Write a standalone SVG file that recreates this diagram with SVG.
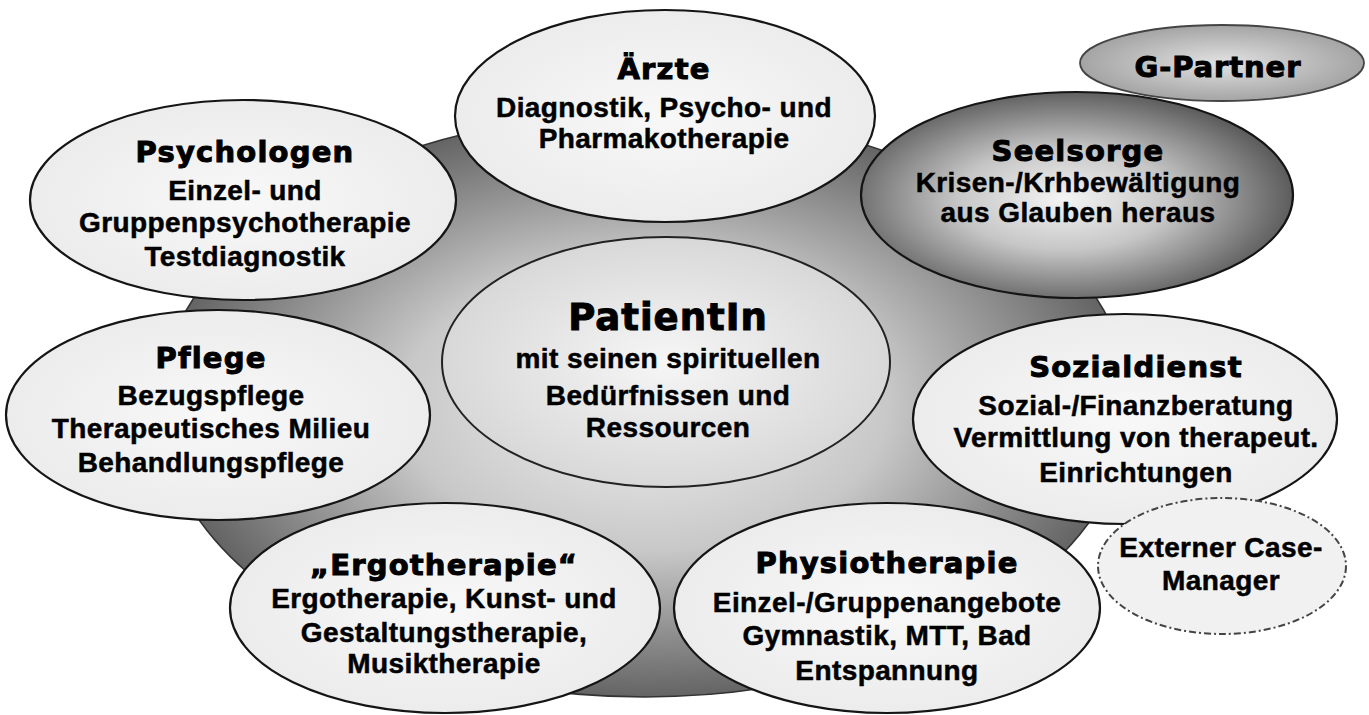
<svg xmlns="http://www.w3.org/2000/svg" width="1369" height="715" viewBox="0 0 1369 715">
<defs>
<radialGradient id="gBig" cx="0.5" cy="0.5" r="0.5">
<stop offset="0" stop-color="#f0f0f0"/>
<stop offset="0.5" stop-color="#c8c8c8"/>
<stop offset="1" stop-color="#646464"/>
</radialGradient>
<radialGradient id="gNode" cx="0.5" cy="0.5" r="0.5">
<stop offset="0" stop-color="#f8f8f8"/>
<stop offset="1" stop-color="#ececec"/>
</radialGradient>
<radialGradient id="gCenter" cx="0.5" cy="0.5" r="0.5">
<stop offset="0" stop-color="#f6f6f6"/>
<stop offset="1" stop-color="#d8d8d8"/>
</radialGradient>
<radialGradient id="gSeel" cx="0.47" cy="0.52" r="0.55">
<stop offset="0" stop-color="#f4f4f4"/>
<stop offset="0.45" stop-color="#c6c6c6"/>
<stop offset="1" stop-color="#555555"/>
</radialGradient>
<radialGradient id="gGP" cx="0.5" cy="0.5" r="0.5">
<stop offset="0" stop-color="#e2e2e2"/>
<stop offset="1" stop-color="#a4a4a4"/>
</radialGradient>
</defs>
<style>
.node{stroke:#151515;stroke-width:2.2;fill:url(#gNode)}
.t{font-family:"DejaVu Sans",Verdana,sans-serif;font-weight:bold;font-size:29px;letter-spacing:1.2px;text-anchor:middle;fill:#000;stroke:#000;stroke-width:1}
.b{font-family:"Liberation Sans",Arial,sans-serif;font-weight:bold;font-size:28px;letter-spacing:0.4px;text-anchor:middle;fill:#000;stroke:#000;stroke-width:0.5}
</style>
<rect width="1369" height="715" fill="#ffffff"/>
<g id="background">
<ellipse cx="645" cy="405" rx="485" ry="292" fill="url(#gBig)" stroke="#333" stroke-width="1.5"/>
</g>
<g id="connectors"/>
<g id="patient">
<ellipse cx="666" cy="362" rx="224" ry="125" fill="url(#gCenter)" stroke="#222" stroke-width="2"/>
<text class="t" x="668" y="330" style="font-size:37px;letter-spacing:1px">PatientIn</text>
<text class="b" x="668" y="368">mit seinen spirituellen</text>
<text class="b" x="668" y="405">Bedürfnissen und</text>
<text class="b" x="668" y="437">Ressourcen</text>
</g>
<g id="aerzte">
<ellipse class="node" cx="665" cy="116" rx="210" ry="106"/>
<text class="t" x="664" y="79">Ärzte</text>
<text class="b" x="664" y="117">Diagnostik, Psycho- und</text>
<text class="b" x="664" y="148">Pharmakotherapie</text>
</g>
<g id="psychologen">
<ellipse class="node" cx="243" cy="200" rx="213" ry="100"/>
<text class="t" x="245" y="162">Psychologen</text>
<text class="b" x="245" y="200">Einzel- und</text>
<text class="b" x="245" y="232">Gruppenpsychotherapie</text>
<text class="b" x="245" y="266">Testdiagnostik</text>
</g>
<g id="pflege">
<ellipse class="node" cx="218" cy="415" rx="212" ry="105"/>
<text class="t" x="211" y="368">Pflege</text>
<text class="b" x="211" y="405">Bezugspflege</text>
<text class="b" x="211" y="438">Therapeutisches Milieu</text>
<text class="b" x="211" y="472">Behandlungspflege</text>
</g>
<g id="ergotherapie">
<ellipse class="node" cx="445" cy="608" rx="215" ry="105"/>
<text class="t" x="444" y="575">„Ergotherapie“</text>
<text class="b" x="444" y="608">Ergotherapie, Kunst- und</text>
<text class="b" x="444" y="642">Gestaltungstherapie,</text>
<text class="b" x="444" y="673">Musiktherapie</text>
</g>
<g id="physiotherapie">
<ellipse class="node" cx="887" cy="608" rx="213" ry="105"/>
<text class="t" x="887" y="573">Physiotherapie</text>
<text class="b" x="887" y="612">Einzel-/Gruppenangebote</text>
<text class="b" x="887" y="645">Gymnastik, MTT, Bad</text>
<text class="b" x="887" y="680">Entspannung</text>
</g>
<g id="sozialdienst">
<ellipse class="node" cx="1125" cy="419" rx="212" ry="105"/>
<text class="t" x="1136" y="377">Sozialdienst</text>
<text class="b" x="1136" y="415">Sozial-/Finanzberatung</text>
<text class="b" x="1136" y="447">Vermittlung von therapeut.</text>
<text class="b" x="1136" y="482">Einrichtungen</text>
</g>
<g id="casemanager">
<ellipse cx="1222" cy="566" rx="124" ry="68" fill="#f1f1f1" stroke="#444" stroke-width="2" stroke-dasharray="7 3 2 3"/>
<text class="b" x="1221" y="557">Externer Case-</text>
<text class="b" x="1221" y="590">Manager</text>
</g>
<g id="seelsorge">
<ellipse cx="1077" cy="195" rx="216" ry="103" fill="url(#gSeel)" stroke="#151515" stroke-width="2.2"/>
<text class="t" x="1078" y="161">Seelsorge</text>
<text class="b" x="1078" y="192">Krisen-/Krhbewältigung</text>
<text class="b" x="1078" y="222">aus Glauben heraus</text>
</g>
<g id="gpartner">
<ellipse cx="1222" cy="63" rx="142" ry="38" fill="url(#gGP)" stroke="#444" stroke-width="1.8"/>
<text class="t" x="1218" y="77" style="letter-spacing:0.9px">G-Partner</text>
</g>
</svg>
